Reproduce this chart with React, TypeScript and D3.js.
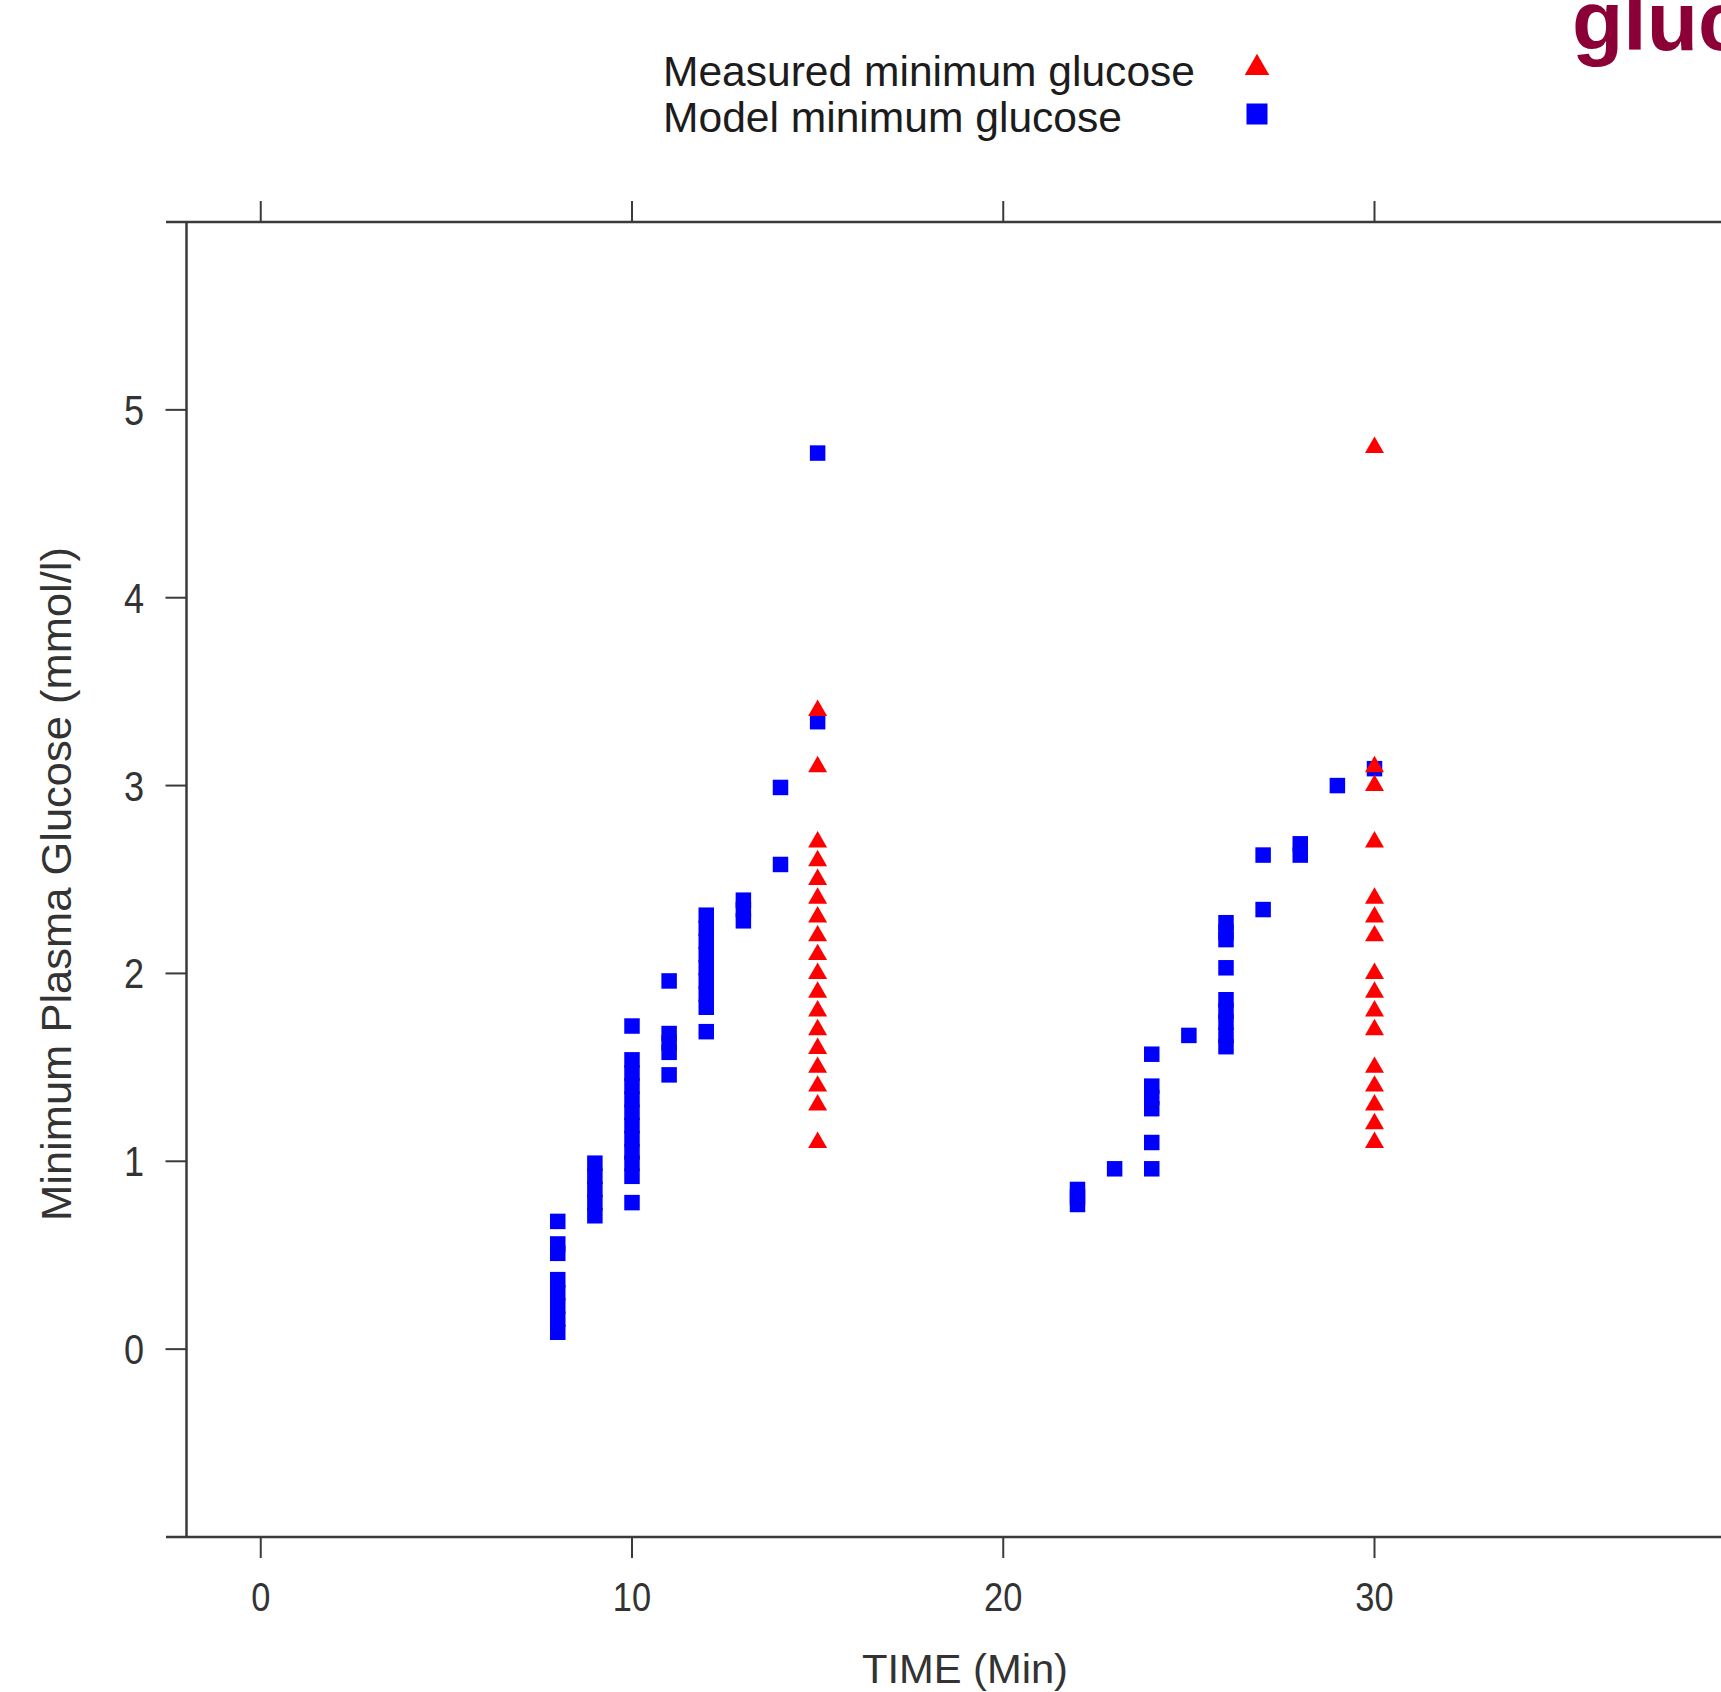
import * as d3 from "d3";

const W = 1721;
const H = 1692;

const xTicks = [0, 10, 20, 30];
const yTicks = [0, 1, 2, 3, 4, 5];

// measured minimum glucose (triangles)
const measuredTimes = [15, 30];
const measured15 = [3.4, 3.1, 2.7, 2.6, 2.5, 2.4, 2.3, 2.2, 2.1, 2.0, 1.9, 1.8, 1.7, 1.6, 1.5, 1.4, 1.3, 1.1];
const measured30 = [4.8, 3.1, 3.0, 2.7, 2.4, 2.3, 2.2, 2.0, 1.9, 1.8, 1.7, 1.5, 1.4, 1.3, 1.2, 1.1];

// model minimum glucose (squares), one list per time
const modelTimes = [8, 9, 10, 11, 12, 13, 14, 15, 22, 23, 24, 25, 26, 27, 28, 29, 30];
const modelValues = [
  [0.68, 0.56, 0.51, 0.37, 0.3, 0.23, 0.16, 0.09],
  [0.99, 0.92, 0.85, 0.78, 0.71],
  [1.72, 1.54, 1.47, 1.4, 1.33, 1.26, 1.19, 1.12, 1.05, 0.99, 0.92, 0.78],
  [1.96, 1.68, 1.63, 1.58, 1.46],
  [2.31, 2.24, 2.17, 2.1, 2.03, 1.96, 1.89, 1.82, 1.69],
  [2.39, 2.34, 2.28],
  [2.99, 2.58],
  [4.77, 3.34],
  [0.85, 0.81, 0.77],
  [0.96],
  [1.57, 1.4, 1.34, 1.28, 1.1, 0.96],
  [1.67],
  [2.27, 2.22, 2.18, 2.03, 1.86, 1.8, 1.74, 1.67, 1.61],
  [2.63, 2.34],
  [2.69, 2.63],
  [3.0],
  [3.09],
];

const legendLabels = ["Measured minimum glucose", "Model minimum glucose"];

const RED = "#ff0000";
const BLUE = "#0000ff";
const AXIS = "#3a3a3a";
const FONT = "'Liberation Sans', Arial, sans-serif";

export default function App() {
  const x = d3.scaleLinear().domain([-2, 42]).range([186.5, 1820]);
  const y = d3.scaleLinear().domain([-1, 6]).range([1537, 222]);

  const tri = d3.symbol(d3.symbolTriangle, 156)() as string;
  const sq = d3.symbol(d3.symbolSquare, 240)() as string;
  const triKey = d3.symbol(d3.symbolTriangle, 260)() as string;
  const sqKey = d3.symbol(d3.symbolSquare, 441)() as string;

  const measured = [measured15, measured30].flatMap((vals, i) =>
    vals.map((v) => ({ t: measuredTimes[i], v }))
  );
  const model = modelValues.flatMap((vals, i) => vals.map((v) => ({ t: modelTimes[i], v })));

  const [x0] = x.domain();
  const [y0, y1] = y.domain();

  return (
    <svg
      width={W}
      height={H}
      style={{ position: "absolute", left: 0, top: 0, background: "#fff" }}
      fontFamily={FONT}
    >
      <rect width={W} height={H} fill="#fff" />

      {/* title, cropped at the right edge like the source */}
      <text x={1572} y={50} fontSize={84} fontWeight="bold" fill="#8b0036">
        glucose
      </text>

      {/* legend */}
      {legendLabels.map((lab, i) => (
        <text
          key={lab}
          x={663}
          y={86 + i * 46}
          fontSize={42}
          fill="#1c1c1c"
          textLength={i === 0 ? 532 : 459}
          lengthAdjust="spacingAndGlyphs"
        >
          {lab}
        </text>
      ))}
      <path d={triKey} transform={`translate(1257,68)`} fill={RED} />
      <path d={sqKey} transform={`translate(1257,114)`} fill={BLUE} />

      {/* frame */}
      <line x1={166} x2={W} y1={y(y1)} y2={y(y1)} stroke={AXIS} strokeWidth={2.5} />
      <line x1={166} x2={W} y1={y(y0)} y2={y(y0)} stroke={AXIS} strokeWidth={2.5} />
      <line x1={x(x0)} x2={x(x0)} y1={y(y1)} y2={y(y0)} stroke={AXIS} strokeWidth={2.5} />

      {/* x ticks top and bottom */}
      {xTicks.map((t) => (
        <g key={t}>
          <line x1={x(t)} x2={x(t)} y1={y(y0)} y2={y(y0) + 21} stroke={AXIS} strokeWidth={2} />
          <line x1={x(t)} x2={x(t)} y1={y(y1)} y2={y(y1) - 21} stroke={AXIS} strokeWidth={2} />
          <text
            transform={`translate(${x(t)},1611) scale(0.86,1)`}
            fontSize={40}
            textAnchor="middle"
            fill="#333"
          >
            {t}
          </text>
        </g>
      ))}

      {/* y ticks */}
      {yTicks.map((t) => (
        <g key={t}>
          <line x1={x(x0) - 21} x2={x(x0)} y1={y(t)} y2={y(t)} stroke={AXIS} strokeWidth={2} />
          <text
            transform={`translate(144,${y(t) + 15}) scale(0.86,1)`}
            fontSize={42}
            textAnchor="end"
            fill="#333"
          >
            {t}
          </text>
        </g>
      ))}

      {/* axis titles */}
      <text
        x={965}
        y={1683}
        fontSize={41}
        textAnchor="middle"
        fill="#333"
        textLength={206}
        lengthAdjust="spacingAndGlyphs"
      >
        TIME (Min)
      </text>
      <text
        transform={`translate(71,884) rotate(-90)`}
        fontSize={42}
        textAnchor="middle"
        fill="#333"
        textLength={674}
        lengthAdjust="spacingAndGlyphs"
      >
        Minimum Plasma Glucose (mmol/l)
      </text>

      {/* points: model first, measured drawn over them */}
      {model.map((d, i) => (
        <path key={`m${i}`} d={sq} transform={`translate(${x(d.t)},${y(d.v)})`} fill={BLUE} />
      ))}
      {measured.map((d, i) => (
        <path key={`r${i}`} d={tri} transform={`translate(${x(d.t)},${y(d.v)})`} fill={RED} />
      ))}
    </svg>
  );
}
